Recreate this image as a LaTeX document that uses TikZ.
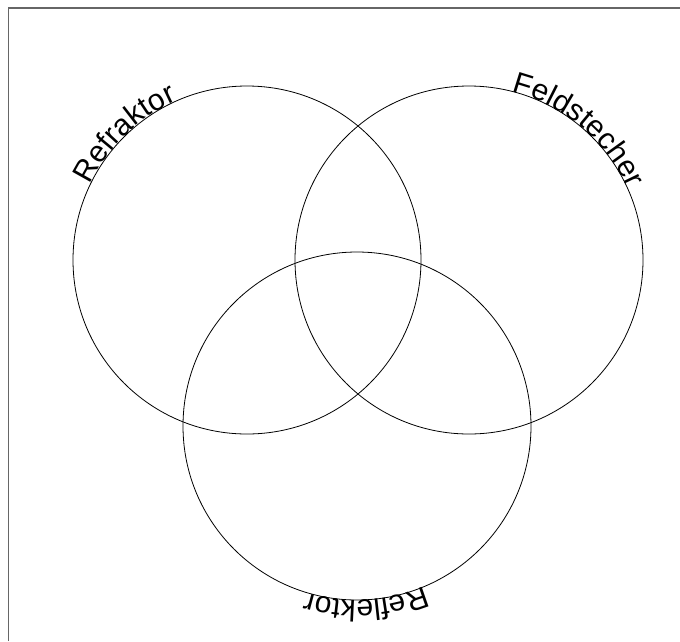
\documentclass[tikz,border=0pt]{standalone}
\usepackage{fontspec}
\setmainfont{Liberation Sans}
\usetikzlibrary{decorations.text}

\begin{document}
\begin{tikzpicture}[x=1pt, y=1pt,
  ring/.style={draw, circle, inner sep=0pt, minimum size=348pt, line width=0.8pt},
  arclabel/.style={decorate, decoration={text along path, text align=center, text={|\fontsize{30}{32}\selectfont|#1}}}
]
\useasboundingbox (0,0) rectangle (680,-641);
\draw[black!60, line width=1.5pt] (8.5,-641) -- (8.5,-8) -- (680,-8);

\node[ring] (refraktor) at (247,-260) {};
\node[ring] (feldstecher) at (469,-260) {};
\node[ring] (reflektor) at (357,-426) {};

\path[arclabel=Refraktor] (refraktor.center) ++(178:174) arc[start angle=178, end angle=90, radius=174];
\path[arclabel=Feldstecher] (feldstecher.center) ++(95:174) arc[start angle=95, end angle=5, radius=174];
\path[arclabel=Reflektor] (reflektor.center) ++(-40:174) arc[start angle=-40, end angle=-134, radius=174];
\end{tikzpicture}
\end{document}
